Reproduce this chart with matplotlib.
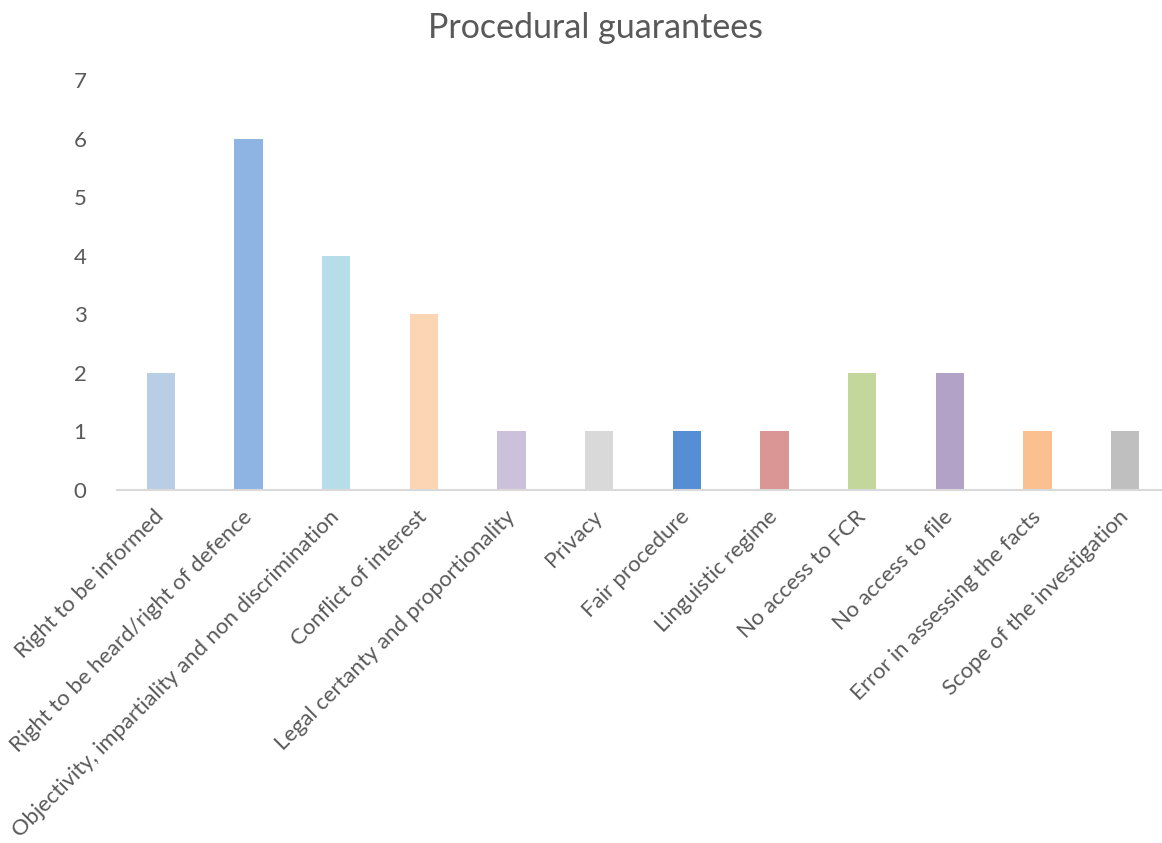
import matplotlib
matplotlib.use('Agg')
import matplotlib.pyplot as plt
import numpy as np

categories = [
    'Right to be informed',
    'Right to be heard/right of defence',
    'Objectivity, impartiality and non discrimination',
    'Conflict of interest',
    'Legal certanty and proportionality',
    'Privacy',
    'Fair procedure',
    'Linguistic regime',
    'No access to FCR',
    'No access to file',
    'Error in assessing the facts',
    'Scope of the investigation',
]
counts = [2, 6, 4, 3, 1, 1, 1, 1, 2, 2, 1, 1]
bar_colors = ['#B9CDE5', '#8EB4E3', '#B7DEE8', '#FCD5B5', '#CCC1DA', '#D9D9D9',
              '#558ED5', '#D99694', '#C3D69B', '#B3A2C7', '#FAC090', '#BFBFBF']
y_ticks = [0, 1, 2, 3, 4, 5, 6, 7]

text_color = '#595959'
plt.rcParams['font.family'] = ['Lato', 'DejaVu Sans']

fig = plt.figure(figsize=(11.62, 8.43), dpi=100)
ax = fig.add_axes([117 / 1162, 353 / 843, 1052 / 1162, 410 / 843])

x = np.arange(len(categories))
ax.bar(x, counts, width=0.32, color=bar_colors, zorder=2)

ax.set_xlim(-0.5, len(categories) - 0.5)
ax.set_ylim(0, 7)
ax.set_yticks(y_ticks)
ax.set_yticklabels([str(t) for t in y_ticks], fontsize=16, color=text_color)
ax.set_xticks(x)
ax.set_xticklabels(categories, rotation=45, ha='right', va='center',
                   rotation_mode='anchor', fontsize=15.9, color=text_color)

ax.tick_params(axis='both', length=0)
ax.tick_params(axis='y', pad=22)
ax.tick_params(axis='x', pad=17)
for side in ['top', 'right', 'left']:
    ax.spines[side].set_visible(False)
ax.spines['bottom'].set_color('#D9D9D9')
ax.spines['bottom'].set_linewidth(1.5)
ax.spines['bottom'].set_zorder(3)

fig.text(596 / 1162, 1 - 28 / 843, 'Procedural guarantees', ha='center', va='center',
         fontsize=24.5, color=text_color)

fig.savefig('out.png', dpi=100)
